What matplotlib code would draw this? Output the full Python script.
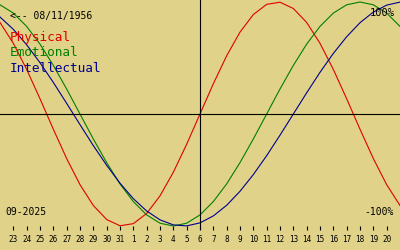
import numpy as np
import matplotlib
matplotlib.use("Agg")
import matplotlib.pyplot as plt

# etiquetas de dias (23-08-2025 .. 20-09-2025), hoy = 6
dias = ["23", "24", "25", "26", "27", "28", "29", "30", "31",
        "1", "2", "3", "4", "5", "6", "7", "8", "9", "10", "11", "12",
        "13", "14", "15", "16", "17", "18", "19", "20"]

fisico = [0.817, 0.631, 0.398, 0.136, -0.136, -0.398, -0.631, -0.817,
          -0.942, -0.998, -0.979, -0.888, -0.731, -0.520, -0.270, 0.0,
          0.270, 0.520, 0.731, 0.888, 0.979, 0.998, 0.942, 0.817,
          0.631, 0.398, 0.136, -0.136, -0.398, -0.631, -0.817]
emocional = [0.975, 0.901, 0.782, 0.624, 0.434, 0.223, 0.0, -0.223,
             -0.434, -0.624, -0.782, -0.901, -0.975, -1.0, -0.975, -0.901,
             -0.782, -0.624, -0.434, -0.223, 0.0, 0.223, 0.434, 0.624,
             0.782, 0.901, 0.975, 1.0, 0.975, 0.901, 0.782]
intelectual = [0.866, 0.756, 0.618, 0.458, 0.282, 0.095, -0.095, -0.282,
               -0.458, -0.618, -0.756, -0.866, -0.945, -0.990, -0.999, -0.972,
               -0.910, -0.815, -0.690, -0.541, -0.372, -0.189, 0.0, 0.189,
               0.372, 0.541, 0.690, 0.815, 0.910, 0.972, 0.999]

fondo = "#e0d288"
W, H = 400, 250

fig = plt.figure(figsize=(4, 2.5), dpi=100, facecolor=fondo)
# el area del grafico termina en y=230 px
ax = fig.add_axes([0, 20 / H, 1, 230 / H])
ax.set_facecolor(fondo)

x = np.arange(-1, len(fisico) - 1)
ax.plot(x, fisico, color="#e00000", lw=0.8)
ax.plot(x, emocional, color="#008000", lw=0.8)
ax.plot(x, intelectual, color="#000090", lw=0.8)

ax.axhline(0, color="black", lw=0.8)
ax.axvline(14, color="black", lw=0.8)

ax.set_xlim(-1, 29)
ax.set_ylim(-(230 - 114) / 112, 114 / 112)

for s in ax.spines.values():
    s.set_visible(False)
ax.set_yticks([])
ax.set_xticks(np.arange(len(dias)))
ax.set_xticklabels(dias, family="DejaVu Sans Mono", fontsize=5.5)
ax.tick_params(axis="x", direction="in", length=2.9, width=0.8, pad=3.5,
               color="black")


def px(xp, yp):
    return xp / W, 1 - yp / H


mono = "DejaVu Sans Mono"
fig.text(*px(10, 16), "<-- 08/11/1956", family=mono, fontsize=7, va="center")
fig.text(*px(10, 38), "Physical", family=mono, fontsize=9.2, color="#e00000", va="center")
fig.text(*px(10, 53), "Emotional", family=mono, fontsize=9.2, color="#008000", va="center")
fig.text(*px(10, 68), "Intellectual", family=mono, fontsize=9.2, color="#000090", va="center")
fig.text(*px(395, 13), "100%", family=mono, fontsize=7.5, ha="right", va="center")
fig.text(*px(394, 212), "-100%", family=mono, fontsize=7, ha="right", va="center")
fig.text(*px(5, 212), "09-2025", family=mono, fontsize=7, va="center")

fig.savefig("out.png", dpi=100, facecolor=fondo)
